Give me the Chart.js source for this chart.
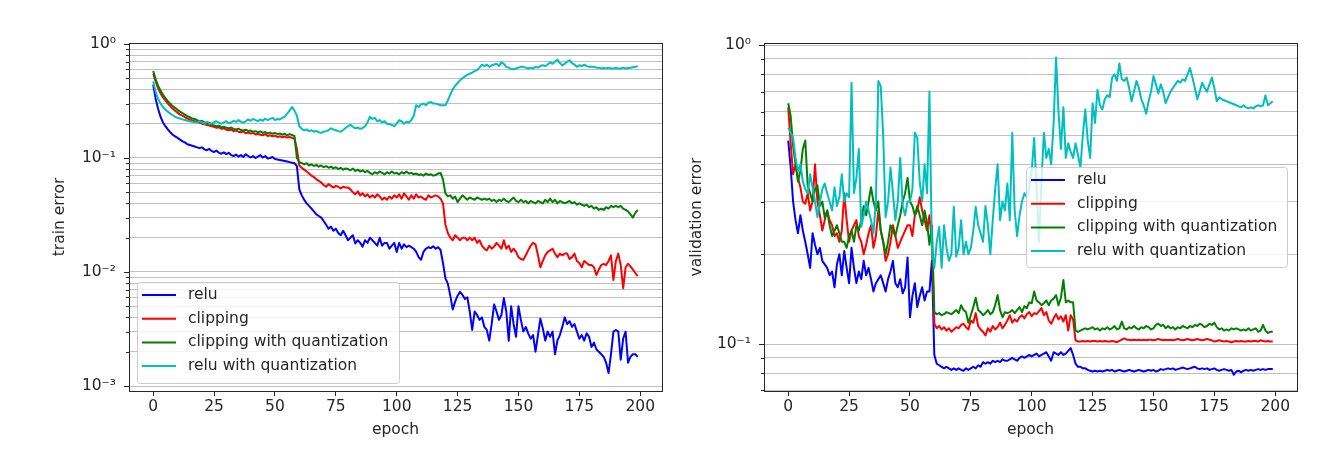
<!DOCTYPE html>
<html>
<head>
<meta charset="utf-8">
<script src="https://cdn.jsdelivr.net/npm/chart.js@4.4.1/dist/chart.umd.min.js"></script>
<style>
  html, body { margin: 0; padding: 0; background: #fff; }
  #wrap { position: relative; width: 1317px; height: 469px; }
  canvas { position: absolute; top: 0; }
  #train { left: 0; }
  #val { left: 680px; }
</style>
</head>
<body>
<div id="wrap">
  <canvas id="train" width="680" height="469"></canvas>
  <canvas id="val" width="637" height="469"></canvas>
</div>
<script>
// epochs 0..199 on the x axis
const epochs = Array.from({ length: 200 }, (_, i) => i);
const seriesLabels = ['relu', 'clipping', 'clipping with quantization', 'relu with quantization'];
const seriesColors = ['#0000ff', '#ff0000', '#008000', '#00bfbf'];

// train error
const trainRelu = [
  0.44, 0.33, 0.27, 0.23, 0.205, 0.19, 0.178, 0.168, 0.16, 0.155,
  0.15, 0.145, 0.14, 0.137, 0.132, 0.13, 0.128, 0.126, 0.124, 0.122,
  0.124, 0.119, 0.117, 0.12, 0.115, 0.113, 0.116, 0.111, 0.109, 0.112,
  0.108, 0.111, 0.106, 0.104, 0.107, 0.103, 0.106, 0.102, 0.108, 0.104,
  0.101, 0.104, 0.1, 0.103, 0.106, 0.101, 0.104, 0.099, 0.1, 0.102,
  0.098, 0.097, 0.096, 0.095, 0.094, 0.093, 0.092, 0.091, 0.09, 0.085,
  0.053, 0.047, 0.043, 0.04, 0.038, 0.036, 0.034, 0.032, 0.031, 0.03,
  0.028, 0.026, 0.024, 0.025, 0.023, 0.024, 0.022, 0.021, 0.023, 0.021,
  0.019, 0.02, 0.021, 0.0178, 0.019, 0.018, 0.0167, 0.019, 0.018, 0.02,
  0.019, 0.018, 0.017, 0.02, 0.017, 0.018, 0.018, 0.016, 0.017, 0.018,
  0.015, 0.018, 0.016, 0.0175, 0.0165, 0.017, 0.0165, 0.016, 0.015, 0.0135,
  0.0128, 0.015, 0.016, 0.0165, 0.0162, 0.0168, 0.016, 0.0165, 0.0156, 0.012,
  0.0088, 0.0079, 0.0062, 0.0047, 0.0055, 0.0062, 0.0067, 0.0063, 0.0058, 0.006,
  0.0045, 0.0031, 0.0045, 0.0042, 0.0038, 0.004, 0.0033, 0.0031, 0.0025, 0.0035,
  0.0052, 0.0045, 0.0038, 0.0042, 0.0059, 0.0045, 0.0025, 0.005, 0.0035, 0.0027,
  0.005, 0.0038, 0.003, 0.0033, 0.0029, 0.0026, 0.0028, 0.002, 0.0028, 0.0039,
  0.0032, 0.0025, 0.003, 0.0027, 0.003, 0.0019, 0.0025, 0.0028, 0.0033, 0.004,
  0.0035, 0.0037, 0.0033, 0.0035, 0.003, 0.0026, 0.0028, 0.0025, 0.0029, 0.0027,
  0.0022, 0.0024, 0.0021, 0.002, 0.0019, 0.0018, 0.0016, 0.0013, 0.0019, 0.003,
  0.0031, 0.003, 0.0017, 0.0026, 0.003, 0.0016, 0.0018, 0.0019, 0.0019, 0.0018
];
const trainClip = [
  0.55, 0.47, 0.41, 0.37, 0.34, 0.32, 0.3, 0.285, 0.27, 0.26,
  0.25, 0.24, 0.235, 0.228, 0.222, 0.218, 0.213, 0.21, 0.207, 0.204,
  0.2, 0.198, 0.195, 0.193, 0.19, 0.188, 0.184, 0.186, 0.18, 0.182,
  0.177, 0.175, 0.178, 0.172, 0.174, 0.17, 0.168, 0.171, 0.165, 0.167,
  0.164, 0.166, 0.161, 0.163, 0.16, 0.158, 0.162, 0.156, 0.158, 0.155,
  0.157, 0.153, 0.155, 0.152, 0.154, 0.151, 0.153, 0.15, 0.148, 0.12,
  0.086, 0.082, 0.079, 0.076, 0.073, 0.07, 0.068, 0.065, 0.063, 0.061,
  0.058, 0.056, 0.059, 0.057, 0.055, 0.057, 0.056, 0.054, 0.056, 0.055,
  0.055, 0.053, 0.05, 0.048, 0.051, 0.047, 0.049, 0.046, 0.048, 0.045,
  0.047, 0.045, 0.048, 0.046, 0.043, 0.045, 0.043, 0.046, 0.044, 0.047,
  0.045, 0.048, 0.044, 0.049, 0.046, 0.043, 0.047, 0.044, 0.048, 0.045,
  0.046, 0.044, 0.043, 0.047, 0.045, 0.046, 0.047, 0.046, 0.044, 0.04,
  0.026, 0.022, 0.02, 0.019, 0.021, 0.02, 0.019, 0.02, 0.02, 0.019,
  0.02, 0.019, 0.02, 0.018, 0.019, 0.017, 0.016, 0.0155, 0.017, 0.016,
  0.0167, 0.018, 0.017, 0.016, 0.019, 0.016, 0.017, 0.015, 0.016, 0.015,
  0.0135, 0.013, 0.0128, 0.014, 0.0155, 0.017, 0.018, 0.0175, 0.014, 0.011,
  0.0125, 0.014, 0.015, 0.0155, 0.016, 0.0145, 0.0135, 0.0145, 0.014, 0.0145,
  0.0145, 0.013, 0.0135, 0.0145, 0.0125, 0.012, 0.011, 0.0125, 0.012, 0.0115,
  0.0115, 0.011, 0.0094, 0.0105, 0.0115, 0.0118, 0.0115, 0.0125, 0.014, 0.0085,
  0.0125, 0.0145, 0.0115, 0.0072, 0.011, 0.0118, 0.0112, 0.0105, 0.0098, 0.0092
];
const trainClipQ = [
  0.58, 0.49, 0.43, 0.39, 0.36, 0.335, 0.315, 0.3, 0.285, 0.275,
  0.265, 0.255, 0.248, 0.24, 0.233, 0.228, 0.222, 0.22, 0.215, 0.21,
  0.212, 0.205, 0.2, 0.203, 0.196, 0.193, 0.19, 0.192, 0.186, 0.188,
  0.184, 0.182, 0.185, 0.18, 0.178, 0.181, 0.176, 0.174, 0.177, 0.172,
  0.174, 0.17, 0.172, 0.168, 0.171, 0.166, 0.169, 0.164, 0.167, 0.163,
  0.166, 0.162, 0.164, 0.16, 0.163, 0.158, 0.162, 0.159, 0.156, 0.1,
  0.092, 0.09, 0.088, 0.09, 0.086, 0.088, 0.085, 0.087, 0.084, 0.086,
  0.083, 0.085, 0.082, 0.084, 0.081, 0.083, 0.08, 0.082, 0.079, 0.081,
  0.08, 0.078, 0.081, 0.077, 0.079, 0.076, 0.078, 0.075, 0.077, 0.074,
  0.072, 0.075, 0.073, 0.076, 0.074, 0.072, 0.075, 0.073, 0.076, 0.073,
  0.074, 0.072, 0.075, 0.073, 0.076, 0.073, 0.074, 0.072, 0.073, 0.071,
  0.072, 0.07, 0.073, 0.071, 0.072, 0.07, 0.071, 0.073, 0.074, 0.065,
  0.049, 0.046, 0.047, 0.044, 0.046, 0.041, 0.044, 0.047, 0.045, 0.043,
  0.045, 0.044, 0.043, 0.045, 0.044, 0.043, 0.044, 0.043, 0.044, 0.042,
  0.043, 0.041, 0.043, 0.042, 0.044, 0.042, 0.041, 0.043, 0.045, 0.042,
  0.041, 0.043, 0.041, 0.042, 0.04, 0.042, 0.041, 0.04, 0.042, 0.041,
  0.04, 0.043, 0.041, 0.044, 0.041, 0.043, 0.04, 0.042, 0.041, 0.04,
  0.041, 0.042, 0.04, 0.041, 0.039, 0.04, 0.039, 0.038, 0.039, 0.037,
  0.038, 0.036, 0.037, 0.035, 0.036, 0.035, 0.037, 0.036, 0.038, 0.037,
  0.038, 0.037, 0.038, 0.036, 0.035, 0.034, 0.032, 0.03, 0.033, 0.035
];
const trainReluQ = [
  0.47, 0.38, 0.33, 0.3, 0.28, 0.265, 0.255, 0.245, 0.237, 0.23,
  0.225, 0.222, 0.218, 0.215, 0.212, 0.21, 0.208, 0.206, 0.205, 0.21,
  0.205, 0.2, 0.208, 0.203, 0.2, 0.206, 0.21, 0.204, 0.2, 0.205,
  0.21, 0.202, 0.205, 0.212, 0.207, 0.215, 0.208, 0.204, 0.21, 0.218,
  0.212, 0.22, 0.215, 0.21, 0.218, 0.212, 0.222, 0.215, 0.22, 0.225,
  0.215, 0.22, 0.218, 0.225, 0.23, 0.245, 0.26, 0.28, 0.26, 0.235,
  0.19, 0.18, 0.175, 0.178, 0.172, 0.175, 0.17, 0.173, 0.168, 0.166,
  0.17, 0.172, 0.175, 0.182, 0.178, 0.175, 0.172, 0.17, 0.176, 0.183,
  0.19, 0.195, 0.188, 0.182, 0.185, 0.18, 0.183, 0.19, 0.205, 0.23,
  0.22, 0.225, 0.21, 0.215, 0.205, 0.21, 0.2, 0.198, 0.195, 0.19,
  0.2, 0.215, 0.21, 0.2, 0.208, 0.205, 0.215, 0.235, 0.29, 0.28,
  0.295, 0.3, 0.29, 0.305, 0.31, 0.3, 0.3, 0.295, 0.29, 0.29,
  0.29, 0.32, 0.36, 0.4, 0.43, 0.455, 0.48, 0.5, 0.52, 0.535,
  0.55, 0.56, 0.58, 0.59, 0.62, 0.66, 0.64, 0.66, 0.63, 0.65,
  0.66, 0.67, 0.64, 0.69, 0.67, 0.63, 0.62, 0.6, 0.6, 0.61,
  0.62, 0.63, 0.63, 0.62, 0.61, 0.62, 0.61, 0.63, 0.62, 0.64,
  0.65, 0.64, 0.66, 0.69, 0.67, 0.7, 0.73, 0.68, 0.65, 0.67,
  0.7, 0.72, 0.68, 0.66, 0.63, 0.65, 0.64, 0.66, 0.64, 0.63,
  0.63, 0.63, 0.62, 0.62, 0.61, 0.615, 0.61, 0.62, 0.61, 0.61,
  0.615, 0.61, 0.61, 0.62, 0.61, 0.615, 0.62, 0.625, 0.63, 0.64
];

// validation error
const valRelu = [
  0.48, 0.39, 0.3, 0.26, 0.235, 0.27, 0.24, 0.22, 0.2, 0.18,
  0.235, 0.215, 0.2, 0.21, 0.19, 0.185, 0.18, 0.17, 0.175, 0.155,
  0.185, 0.2, 0.17, 0.205, 0.18, 0.16, 0.21, 0.18, 0.16, 0.175,
  0.165, 0.19, 0.17, 0.18, 0.165, 0.15, 0.16, 0.165, 0.17, 0.16,
  0.15, 0.165, 0.175, 0.19, 0.16, 0.155, 0.165, 0.148, 0.155, 0.195,
  0.123, 0.145, 0.16, 0.133, 0.145, 0.155, 0.14, 0.15, 0.15, 0.19,
  0.092, 0.086, 0.085, 0.084, 0.083, 0.084, 0.083, 0.082, 0.083, 0.082,
  0.083, 0.082, 0.0815, 0.083, 0.082, 0.083, 0.084, 0.083, 0.085, 0.084,
  0.087, 0.086, 0.087, 0.086, 0.088, 0.087, 0.088, 0.087, 0.089, 0.088,
  0.088, 0.089, 0.09, 0.089, 0.088, 0.09, 0.091, 0.09, 0.091, 0.092,
  0.091, 0.092, 0.093, 0.091, 0.092, 0.093, 0.094, 0.091, 0.088, 0.094,
  0.093, 0.092, 0.094, 0.092, 0.093, 0.095, 0.097, 0.092, 0.086, 0.084,
  0.084, 0.083, 0.083, 0.082, 0.0815, 0.081, 0.0815, 0.081, 0.0815, 0.081,
  0.0815, 0.082, 0.0815, 0.082, 0.081, 0.0815, 0.082, 0.0815, 0.081, 0.0815,
  0.082, 0.0815, 0.081, 0.0815, 0.082, 0.0815, 0.081, 0.0815, 0.082, 0.0815,
  0.082, 0.081, 0.0815, 0.0825, 0.082, 0.0825, 0.083, 0.0825, 0.083, 0.082,
  0.0825, 0.083, 0.0835, 0.083, 0.0825, 0.083, 0.0835, 0.084, 0.083, 0.0825,
  0.083, 0.0825, 0.083, 0.082, 0.0825, 0.083, 0.082, 0.0815, 0.082, 0.0825,
  0.082, 0.0815, 0.082, 0.079, 0.081, 0.0815, 0.0805, 0.0815, 0.082, 0.0815,
  0.082, 0.0815, 0.082, 0.0825, 0.082, 0.0825, 0.082, 0.0825, 0.0825, 0.0825
];
const valClip = [
  0.62, 0.47, 0.37, 0.4, 0.36, 0.335, 0.3, 0.295, 0.32, 0.28,
  0.3, 0.4, 0.3, 0.27, 0.24, 0.26, 0.28, 0.26, 0.25, 0.23,
  0.235, 0.22, 0.24, 0.32, 0.26, 0.22, 0.24, 0.25, 0.26, 0.23,
  0.22, 0.2, 0.215, 0.235, 0.25, 0.21, 0.23, 0.28, 0.24, 0.22,
  0.19, 0.2, 0.22, 0.25, 0.23, 0.21, 0.22, 0.23, 0.24, 0.25,
  0.25, 0.23, 0.27, 0.28, 0.31, 0.28, 0.26, 0.24, 0.27, 0.22,
  0.117, 0.113, 0.115, 0.112, 0.114, 0.111, 0.113, 0.11, 0.112, 0.114,
  0.113, 0.116, 0.117, 0.114, 0.112, 0.12, 0.118, 0.127, 0.115, 0.112,
  0.11, 0.107, 0.113, 0.11, 0.115, 0.112, 0.114, 0.118, 0.113, 0.116,
  0.12, 0.125, 0.118, 0.121, 0.119, 0.123, 0.125, 0.122, 0.126, 0.128,
  0.124, 0.127, 0.126, 0.129, 0.132, 0.125, 0.128, 0.12, 0.117, 0.122,
  0.126, 0.121, 0.124, 0.119, 0.125, 0.111, 0.125, 0.121, 0.103, 0.102,
  0.102, 0.1025, 0.102, 0.1025, 0.102, 0.1025, 0.1025, 0.102, 0.1025, 0.102,
  0.1025, 0.102, 0.102, 0.1025, 0.102, 0.1015, 0.1025, 0.1035, 0.1045, 0.1035,
  0.1035, 0.103, 0.1035, 0.103, 0.1035, 0.103, 0.1035, 0.103, 0.1035, 0.1035,
  0.103, 0.1035, 0.104, 0.1035, 0.103, 0.1035, 0.103, 0.1035, 0.103, 0.1035,
  0.104, 0.1035, 0.103, 0.1035, 0.104, 0.1035, 0.103, 0.1035, 0.104, 0.1035,
  0.103, 0.1035, 0.104, 0.1035, 0.103, 0.102, 0.1025, 0.103, 0.1025, 0.102,
  0.1025, 0.102, 0.1015, 0.102, 0.1025, 0.102, 0.1025, 0.102, 0.102, 0.1025,
  0.102, 0.1025, 0.1025, 0.102, 0.103, 0.1025, 0.102, 0.1025, 0.102, 0.102
];
const valClipQ = [
  0.64, 0.58, 0.46, 0.4, 0.35, 0.38, 0.45, 0.48, 0.34, 0.32,
  0.3, 0.33, 0.34, 0.29, 0.3, 0.265, 0.28, 0.25, 0.23, 0.24,
  0.25, 0.235, 0.22, 0.22, 0.21, 0.23, 0.24, 0.22, 0.25, 0.24,
  0.26, 0.29, 0.27, 0.3, 0.335, 0.3, 0.28, 0.3, 0.24, 0.22,
  0.2, 0.22, 0.25, 0.24, 0.23, 0.25, 0.27, 0.3, 0.32, 0.36,
  0.3, 0.29, 0.27, 0.29, 0.27, 0.25, 0.28, 0.255, 0.215, 0.25,
  0.128, 0.126, 0.127, 0.125, 0.126, 0.128, 0.127, 0.126, 0.128, 0.13,
  0.127, 0.135, 0.13, 0.128, 0.118, 0.125, 0.133, 0.143, 0.13, 0.128,
  0.125, 0.127, 0.13, 0.126, 0.128, 0.135, 0.146, 0.13, 0.123, 0.128,
  0.127, 0.128, 0.13, 0.127, 0.13, 0.133, 0.128, 0.134, 0.132, 0.138,
  0.137, 0.15, 0.14, 0.138, 0.135, 0.137, 0.14, 0.135, 0.14, 0.142,
  0.146, 0.135, 0.143, 0.164, 0.138, 0.14, 0.138, 0.138, 0.111, 0.11,
  0.111, 0.112, 0.113, 0.112, 0.113, 0.114, 0.112, 0.113, 0.111, 0.113,
  0.112, 0.114, 0.112, 0.113, 0.115, 0.112, 0.113, 0.119, 0.113, 0.112,
  0.114, 0.113, 0.115, 0.113, 0.112, 0.114, 0.113, 0.115, 0.114, 0.112,
  0.113, 0.116, 0.117, 0.115, 0.116, 0.113, 0.115, 0.113, 0.114, 0.112,
  0.114, 0.113, 0.115, 0.114, 0.113, 0.115, 0.114, 0.116, 0.115, 0.117,
  0.116, 0.114, 0.115, 0.117, 0.116, 0.118, 0.114, 0.112, 0.113, 0.111,
  0.112, 0.111, 0.113, 0.112, 0.113, 0.112, 0.111, 0.112, 0.111, 0.113,
  0.111, 0.112, 0.113, 0.11, 0.111, 0.116, 0.111, 0.109, 0.11, 0.11
];
const valReluQ = [
  0.53, 0.51, 0.49, 0.42, 0.38, 0.4, 0.35, 0.33, 0.32, 0.37,
  0.335, 0.3, 0.266, 0.3, 0.33, 0.345, 0.32, 0.3, 0.28, 0.335,
  0.29, 0.31, 0.37, 0.3, 0.32, 0.31, 0.75, 0.32, 0.36, 0.45,
  0.247, 0.27, 0.3, 0.28, 0.26, 0.235, 0.3, 0.76, 0.73, 0.5,
  0.266, 0.3, 0.39, 0.32, 0.26, 0.3, 0.42, 0.29, 0.27, 0.3,
  0.3, 0.33, 0.51, 0.49, 0.35, 0.3, 0.4, 0.32, 0.7, 0.21,
  0.18, 0.22, 0.247, 0.18, 0.25, 0.21, 0.19, 0.2, 0.288, 0.196,
  0.21, 0.26, 0.2, 0.22, 0.2, 0.21, 0.24, 0.288, 0.25, 0.235,
  0.22, 0.29, 0.25, 0.2, 0.26, 0.33, 0.4, 0.26, 0.3, 0.28,
  0.345, 0.26, 0.51, 0.28, 0.23, 0.27, 0.3, 0.32, 0.31, 0.335,
  0.38, 0.49, 0.33, 0.22, 0.35, 0.51, 0.42, 0.45, 0.4, 0.55,
  0.91, 0.6, 0.45, 0.62, 0.42, 0.47, 0.44, 0.42, 0.47, 0.43,
  0.39, 0.5, 0.61, 0.48, 0.42, 0.64, 0.55, 0.71, 0.63, 0.61,
  0.66, 0.68, 0.67, 0.78, 0.8, 0.76, 0.87, 0.77, 0.76, 0.78,
  0.72, 0.65, 0.7, 0.76, 0.72, 0.66, 0.63, 0.59, 0.65, 0.7,
  0.79, 0.74, 0.69, 0.74, 0.7, 0.64, 0.67, 0.7, 0.72, 0.74,
  0.76, 0.75, 0.77, 0.76, 0.8, 0.84, 0.78, 0.72, 0.66, 0.7,
  0.75, 0.72, 0.7, 0.74, 0.78, 0.72, 0.65, 0.67, 0.66, 0.655,
  0.65, 0.645, 0.64, 0.635, 0.63, 0.625, 0.62, 0.63, 0.62, 0.615,
  0.62, 0.615, 0.625, 0.63, 0.625, 0.63, 0.68, 0.63, 0.64, 0.65
];

// axis ticks
const xTicks = [0, 25, 50, 75, 100, 125, 150, 175, 200];
const trainTicks = [
  0.001, 0.002, 0.003, 0.004, 0.005, 0.006, 0.007, 0.008, 0.009,
  0.01, 0.02, 0.03, 0.04, 0.05, 0.06, 0.07, 0.08, 0.09,
  0.1, 0.2, 0.3, 0.4, 0.5, 0.6, 0.7, 0.8, 0.9, 1
];
const trainMajorTicks = [0.001, 0.01, 0.1, 1];
const trainMajorLabels = ['10⁻³', '10⁻²', '10⁻¹', '10⁰'];
const valTicks = [0.07, 0.08, 0.09, 0.1, 0.2, 0.3, 0.4, 0.5, 0.6, 0.7, 0.8, 0.9, 1];
const valMajorTicks = [0.1, 1];
const valMajorLabels = ['10⁻¹', '10⁰'];

const FONT_SIZE = 15.5;
Chart.defaults.font.family = '"DejaVu Sans", sans-serif';
Chart.defaults.font.size = FONT_SIZE;
Chart.defaults.color = '#262626';

const INK = '#262626';

// legend box + axes frame + minor tick marks, drawn in matplotlib style
const framePlugin = {
  id: 'frame',
  afterDatasetsDraw(chart, args, opts) {
    const { ctx, chartArea: ca } = chart;
    const w = opts.width, h = opts.height;
    const left = opts.anchor === 'lowerleft' ? ca.left + 8 : ca.right - 10 - w;
    const top = opts.anchor === 'lowerleft' ? ca.bottom - 8 - h : (ca.top + ca.bottom) / 2 - h / 2;
    ctx.save();
    ctx.beginPath();
    ctx.roundRect(Math.round(left) + 0.5, Math.round(top) + 0.5, w, h, 3);
    ctx.fillStyle = 'rgba(255,255,255,0.8)';
    ctx.fill();
    ctx.strokeStyle = '#cccccc';
    ctx.lineWidth = 1;
    ctx.stroke();
    chart.data.datasets.forEach((ds, i) => {
      const y = top + 13 + i * 23.7;
      ctx.beginPath();
      ctx.moveTo(left + 5, y);
      ctx.lineTo(left + 39, y);
      ctx.strokeStyle = ds.borderColor;
      ctx.lineWidth = 2;
      ctx.stroke();
      ctx.fillStyle = INK;
      ctx.font = FONT_SIZE + 'px "DejaVu Sans"';
      ctx.textBaseline = 'middle';
      ctx.textAlign = 'left';
      ctx.fillText(ds.label, left + 51, y);
    });
    ctx.restore();
  },
  afterDraw(chart, args, opts) {
    const { ctx, chartArea: ca } = chart;
    const y = chart.scales.y;
    ctx.save();
    ctx.strokeStyle = INK;
    ctx.lineWidth = 1;
    y.ticks.forEach(t => {
      const py = Math.round(y.getPixelForValue(t.value)) + 0.5;
      const len = opts.major.includes(t.value) ? 5 : 3;
      ctx.beginPath();
      ctx.moveTo(ca.left - len, py);
      ctx.lineTo(ca.left, py);
      ctx.stroke();
    });
    ctx.strokeRect(Math.round(ca.left) + 0.5, Math.round(ca.top) + 0.5,
      Math.round(ca.right - ca.left), Math.round(ca.bottom - ca.top));
    ctx.restore();
  }
};

function buildDatasets(seriesList) {
  return seriesList.map((vals, i) => ({
    label: seriesLabels[i],
    data: epochs.map((e, k) => ({ x: e, y: vals[k] })),
    borderColor: seriesColors[i],
    backgroundColor: seriesColors[i],
    borderWidth: 2,
    pointRadius: 0,
    tension: 0,
    borderJoinStyle: 'round',
    order: seriesList.length - i
  }));
}

function makeChart(id, p) {
  const half = FONT_SIZE * 1.2 / 2;
  return new Chart(document.getElementById(id), {
    type: 'line',
    data: { datasets: buildDatasets(p.series) },
    options: {
      responsive: false,
      animation: false,
      devicePixelRatio: 1,
      layout: { padding: { left: 0, top: 43, right: p.padRight, bottom: 0 } },
      plugins: {
        legend: { display: false },
        tooltip: { enabled: false },
        frame: { anchor: p.legendAnchor, width: p.legendW, height: p.legendH, major: p.majorTicks }
      },
      scales: {
        x: {
          type: 'linear',
          min: -9.95,
          max: 208.95,
          afterFit: s => { s.height = 78; },
          afterBuildTicks: s => { s.ticks = xTicks.map(v => ({ value: v })); },
          grid: { drawOnChartArea: false, drawTicks: true, tickLength: 5, tickColor: INK },
          border: { display: false },
          ticks: { padding: 2, color: INK, maxRotation: 0 },
          title: { display: true, text: 'epoch', color: INK, padding: { top: 0, bottom: 39 - half } }
        },
        y: {
          type: 'logarithmic',
          min: p.yMin,
          max: p.yMax,
          afterFit: s => { s.width = p.yWidth; },
          afterBuildTicks: s => { s.ticks = p.ticks.map(v => ({ value: v })); },
          grid: { color: '#c0c0c0', lineWidth: 1, drawTicks: false },
          border: { display: false },
          ticks: {
            padding: 13,
            color: INK,
            autoSkip: false,
            callback: v => {
              const k = p.majorTicks.indexOf(v);
              return k >= 0 ? p.majorLabels[k] : '';
            }
          },
          title: { display: true, text: p.yTitle, color: INK, padding: { top: p.titleX - half, bottom: 0 } }
        }
      }
    },
    plugins: [framePlugin]
  });
}

makeChart('train', {
  series: [trainRelu, trainClip, trainClipQ, trainReluQ],
  yMin: 0.000904, yMax: 1.02,
  ticks: trainTicks, majorTicks: trainMajorTicks, majorLabels: trainMajorLabels,
  yTitle: 'train error', yWidth: 129, titleX: 60, padRight: 18,
  legendAnchor: 'lowerleft', legendW: 262, legendH: 101
});

makeChart('val', {
  series: [valRelu, valClip, valClipQ, valReluQ],
  yMin: 0.0697, yMax: 1.018,
  ticks: valTicks, majorTicks: valMajorTicks, majorLabels: valMajorLabels,
  yTitle: 'validation error', yWidth: 84, titleX: 17, padRight: 20,
  legendAnchor: 'centerright', legendW: 261, legendH: 100
});
</script>
</body>
</html>
